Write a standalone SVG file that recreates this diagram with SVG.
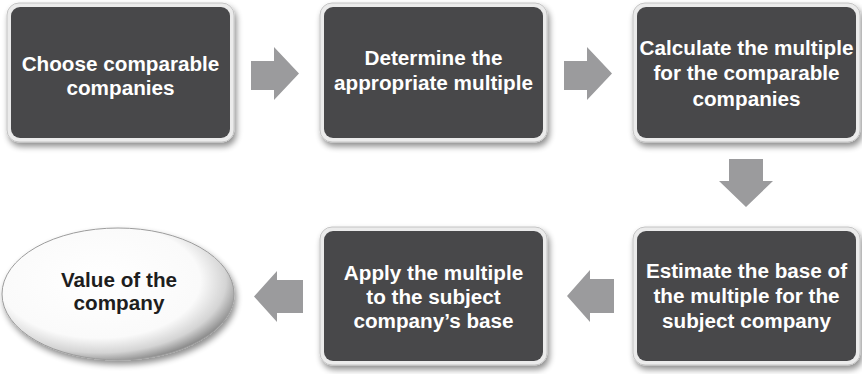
<svg xmlns="http://www.w3.org/2000/svg" width="862" height="374" viewBox="0 0 862 374">
<style>
  .frame { fill: #ebebeb; stroke: #c4c4c4; stroke-width: 1; }
  .box { fill: #48484a; }
  .lbl { font-family: "Liberation Sans", Arial, sans-serif; font-weight: bold; font-size: 20.7px; fill: #ffffff; text-anchor: middle; }
  .dark { fill: #1e1e1e; }
  .arrow { fill: #9b9b9d; }
</style>
<defs>
  <filter id="shadow" x="-10%" y="-10%" width="125%" height="130%">
    <feGaussianBlur in="SourceAlpha" stdDeviation="3"/>
    <feOffset dx="2" dy="4" result="b"/>
    <feComponentTransfer><feFuncA type="linear" slope="0.45"/></feComponentTransfer>
    <feMerge><feMergeNode/><feMergeNode in="SourceGraphic"/></feMerge>
  </filter>
  <radialGradient id="egrad" cx="0.42" cy="0.4" r="0.62">
    <stop offset="0" stop-color="#ffffff"/>
    <stop offset="0.7" stop-color="#fafafa"/>
    <stop offset="0.88" stop-color="#d4d4d4"/>
    <stop offset="1" stop-color="#8e8e8e"/>
  </radialGradient>
</defs>
<rect width="862" height="374" fill="#ffffff"/>

<g id="connectors">
  <polygon class="arrow" points="251,61 274,61 274,47 299,73.5 274,100 274,90 251,90"/>
  <polygon class="arrow" points="564,61 587,61 587,47 612,73.5 587,100 587,90 564,90"/>
  <polygon class="arrow" points="729,159 763,159 763,181 773,181 746,207 719,181 729,181"/>
  <polygon class="arrow" points="614,279 590,279 590,270 567,296 590,322 590,313 614,313"/>
  <polygon class="arrow" points="303,280 277,280 277,271 254,296.5 277,322 277,313 303,313"/>
</g>

<g id="node-choose">
  <rect class="frame" x="7" y="3" width="227" height="139" rx="12" filter="url(#shadow)"/>
  <rect class="box" x="11" y="7" width="219" height="131" rx="9"/>
  <text class="lbl" x="120.5" y="71">Choose comparable</text>
  <text class="lbl" x="120.5" y="95">companies</text>
</g>

<g id="node-determine">
  <rect class="frame" x="320" y="3" width="227" height="139" rx="12" filter="url(#shadow)"/>
  <rect class="box" x="324" y="7" width="219" height="131" rx="9"/>
  <text class="lbl" x="433.5" y="65">Determine the</text>
  <text class="lbl" x="433.5" y="90">appropriate multiple</text>
</g>

<g id="node-calculate">
  <rect class="frame" x="633" y="3" width="227" height="139" rx="12" filter="url(#shadow)"/>
  <rect class="box" x="637" y="7" width="219" height="131" rx="9"/>
  <text class="lbl" x="746.5" y="55">Calculate the multiple</text>
  <text class="lbl" x="746.5" y="80">for the comparable</text>
  <text class="lbl" x="746.5" y="106">companies</text>
</g>

<g id="node-estimate">
  <rect class="frame" x="633" y="227" width="227" height="138" rx="12" filter="url(#shadow)"/>
  <rect class="box" x="637" y="231" width="219" height="130" rx="9"/>
  <text class="lbl" x="746.5" y="278">Estimate the base of</text>
  <text class="lbl" x="746.5" y="303">the multiple for the</text>
  <text class="lbl" x="746.5" y="328">subject company</text>
</g>

<g id="node-apply">
  <rect class="frame" x="320" y="227" width="227" height="138" rx="12" filter="url(#shadow)"/>
  <rect class="box" x="324" y="231" width="219" height="130" rx="9"/>
  <text class="lbl" x="433.5" y="280">Apply the multiple</text>
  <text class="lbl" x="433.5" y="304">to the subject</text>
  <text class="lbl" x="433.5" y="328">company’s base</text>
</g>

<g id="node-value">
  <ellipse cx="118" cy="294" rx="116" ry="66" fill="url(#egrad)" stroke="#9c9c9c" stroke-width="1" filter="url(#shadow)"/>
  <text class="lbl dark" x="119" y="287">Value of the</text>
  <text class="lbl dark" x="119" y="310">company</text>
</g>
</svg>
